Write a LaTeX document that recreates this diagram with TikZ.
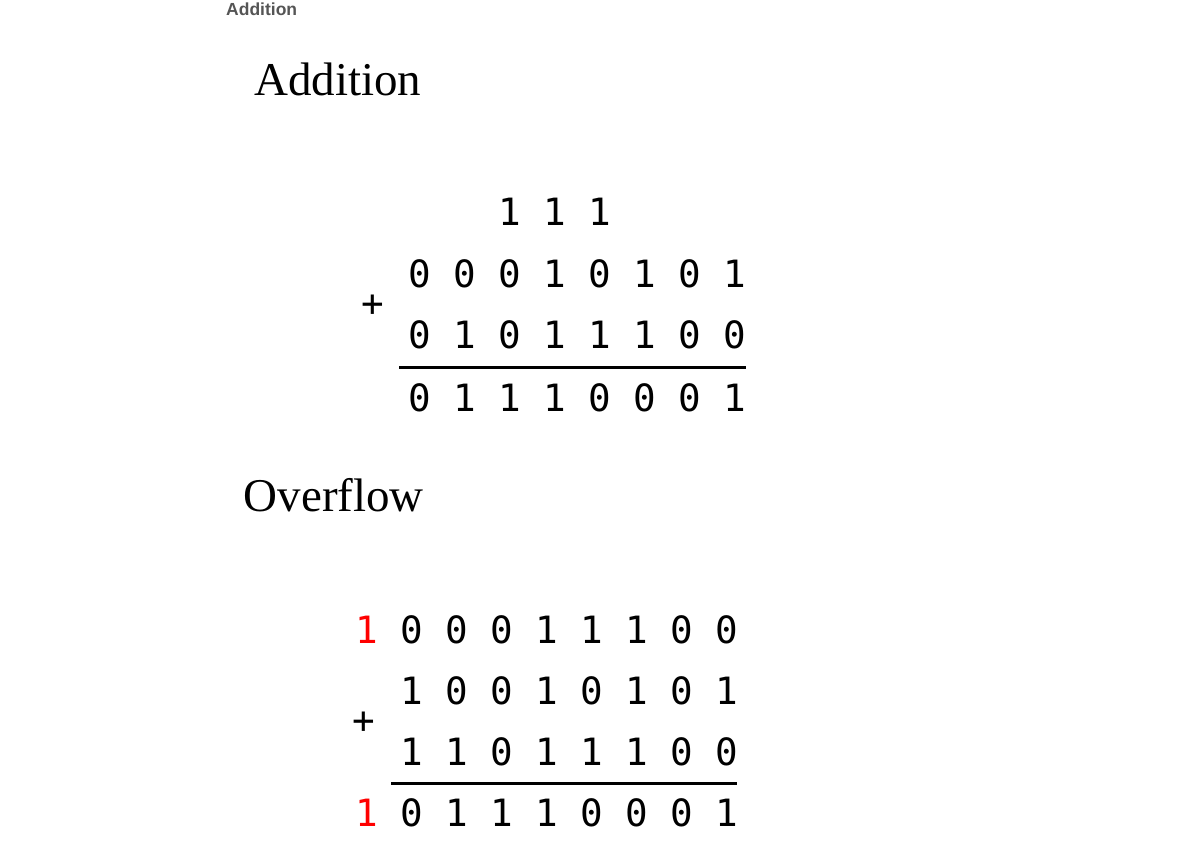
\documentclass[tikz,border=0pt]{standalone}
\usepackage{fontspec}
\setmainfont{Liberation Serif}
\setsansfont{Liberation Sans}
\setmonofont{DejaVu Sans Mono}
\definecolor{labelgray}{RGB}{85,85,85}
\definecolor{carryred}{RGB}{255,0,0}
\begin{document}
\begin{tikzpicture}[x=1pt, y=-1pt, every node/.style={inner sep=0pt},
    digit/.style={anchor=base, font=\ttfamily\fontsize{37.6}{40}\selectfont},
    heading/.style={anchor=base west, font=\fontsize{47}{50}\selectfont}]
    \useasboundingbox (0,0) rectangle (1194,854);

    % Etiqueta superior
    \node[anchor=base west, font=\sffamily\bfseries\fontsize{17.5}{20}\selectfont, text=labelgray] (tab) at (226,15) {Addition};

    % Soma sem overflow
    \node[heading] (addtitle) at (254,95) {Addition};
    \foreach \d [count=\i from 2] in {1,1,1}
        \node[digit] (acarry\i) at (420+45*\i,225) {\d};
    \foreach \d [count=\i from 0] in {0,0,0,1,0,1,0,1}
        \node[digit] (aop\i) at (420+45*\i,287) {\d};
    \foreach \d [count=\i from 0] in {0,1,0,1,1,1,0,0}
        \node[digit] (bop\i) at (420+45*\i,348.5) {\d};
    \foreach \d [count=\i from 0] in {0,1,1,1,0,0,0,1}
        \node[digit] (asum\i) at (420+45*\i,411) {\d};
    \node[digit] (aplus) at (372.7,316) {+};
    \coordinate (abarl) at (399,367);
    \coordinate (abarr) at (746,367);
    \draw[line width=3pt] (abarl) -- (abarr);

    % Soma com overflow
    \node[heading] (ovftitle) at (243.5,511.7) {Overflow};
    \node[digit, text=carryred] (ocarry0) at (366.5,643) {1};
    \foreach \d [count=\i from 1] in {0,0,0,1,1,1,0,0}
        \node[digit] (ocarry\i) at (366.5+45*\i,643) {\d};
    \foreach \d [count=\i from 1] in {1,0,0,1,0,1,0,1}
        \node[digit] (cop\i) at (366.5+45*\i,704) {\d};
    \foreach \d [count=\i from 1] in {1,1,0,1,1,1,0,0}
        \node[digit] (dop\i) at (366.5+45*\i,765) {\d};
    \node[digit, text=carryred] (osum0) at (366.5,826) {1};
    \foreach \d [count=\i from 1] in {0,1,1,1,0,0,0,1}
        \node[digit] (osum\i) at (366.5+45*\i,826) {\d};
    \node[digit] (oplus) at (364,733) {+};
    \coordinate (obarl) at (391,783.5);
    \coordinate (obarr) at (737,783.5);
    \draw[line width=3pt] (obarl) -- (obarr);
\end{tikzpicture}
\end{document}
